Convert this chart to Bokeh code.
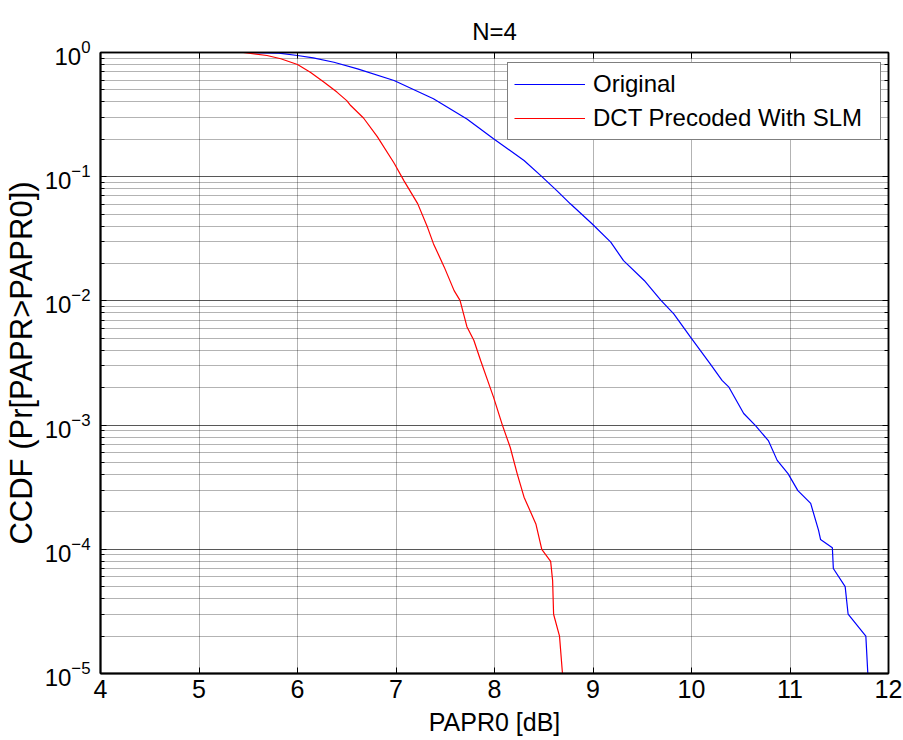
from bokeh.plotting import figure
from bokeh.models import (LinearAxis, LogAxis, Legend, LegendItem, SingleIntervalTicker,
                          CustomJSTickFormatter, Range1d)
from bokeh.embed import file_html
from bokeh.resources import INLINE

# ---- data ----
title_text = "N=4"
x_label = "PAPR0 [dB]"
y_label = "CCDF (Pr[PAPR>PAPR0])"
series_names = ["Original", "DCT Precoded With SLM"]

papr_original = [4.27, 5.50, 5.81, 6.00, 6.16, 6.37, 6.61, 6.98, 7.38, 7.72, 7.99, 8.30,
                 8.47, 8.63, 8.77, 8.99, 9.18, 9.31, 9.52, 9.69, 9.82, 9.99, 10.19, 10.31,
                 10.38, 10.53, 10.65, 10.78, 10.87, 10.98, 11.08, 11.21, 11.29, 11.31,
                 11.43, 11.44, 11.56, 11.59, 11.77, 11.79]
ccdf_original = [1.0, 1.0, 0.99, 0.946, 0.906, 0.835, 0.739, 0.595, 0.424, 0.292, 0.202, 0.135,
                 0.102, 0.0776, 0.0605, 0.0418, 0.0297, 0.0211, 0.0146, 0.0101, 0.00787, 0.0051,
                 0.00311, 0.00229, 0.00202, 0.00124, 0.00099, 7.5e-4, 5.2e-4, 4.07e-4, 2.97e-4,
                 2.34e-4, 1.42e-4, 1.2e-4, 1.03e-4, 7e-5, 5e-5, 3e-5, 2e-5, 1e-5]

papr_dct = [4.27, 5.45, 5.69, 5.83, 6.00, 6.13, 6.27, 6.40, 6.50, 6.54, 6.67, 6.81, 6.98,
            7.08, 7.22, 7.32, 7.38, 7.49, 7.59, 7.65, 7.72, 7.79, 7.86, 7.93, 7.99, 8.08,
            8.16, 8.23, 8.30, 8.42, 8.48, 8.57, 8.59, 8.60, 8.66, 8.69]
ccdf_dct = [1.0, 1.0, 0.946, 0.89, 0.80, 0.694, 0.577, 0.48, 0.41, 0.374, 0.297, 0.21, 0.129,
            0.093, 0.0607, 0.0391, 0.0289, 0.0187, 0.0121, 0.0101, 0.0062, 0.00482, 0.0033,
            0.00229, 0.00168, 1e-3, 6.6e-4, 4.07e-4, 2.63e-4, 1.6e-4, 1.0e-4, 8e-5, 5.6e-5,
            3e-5, 2e-5, 1e-5]

x_min, x_max = 4, 12
y_min, y_max = 1e-5, 1.0

FONT = "Liberation Sans"

p = figure(width=903, height=740, output_backend="svg", toolbar_location=None,
           y_axis_type="log", x_range=Range1d(x_min, x_max), y_range=Range1d(y_min, y_max),
           min_border_left=100, min_border_right=15, min_border_top=52, min_border_bottom=67,
           background_fill_color="white", border_fill_color="white")

p.title.text = title_text
p.title.align = "center"
p.title.text_font = FONT
p.title.text_font_size = "24px"
p.title.text_font_style = "normal"
p.title.text_color = "black"
p.title.standoff = 16

# grids (MATLAB-like dotted)
p.xgrid.ticker = SingleIntervalTicker(interval=1, num_minor_ticks=0)
for g in (p.xgrid, p.ygrid):
    g.grid_line_color = "#000000"
    g.grid_line_alpha = 0.6
    g.grid_line_dash = "1 1"
    g.grid_line_width = 1
p.ygrid.minor_grid_line_color = "#000000"
p.ygrid.minor_grid_line_alpha = 0.6
p.ygrid.minor_grid_line_dash = "1 1"

p.outline_line_color = "black"
p.outline_line_width = 1.5

xa = p.xaxis[0]
xa.ticker = SingleIntervalTicker(interval=1, num_minor_ticks=0)
xa.axis_label = x_label
xa.axis_label_text_font = FONT
xa.axis_label_text_font_size = "25px"
xa.axis_label_text_font_style = "normal"
xa.axis_label_standoff = 7
xa.major_label_text_font = FONT
xa.major_label_text_font_size = "25px"
xa.major_label_standoff = 6
xa.major_tick_in = 6
xa.major_tick_out = 0
xa.axis_line_width = 2

ya = p.yaxis[0]
ya.axis_label = y_label
ya.axis_label_text_font = FONT
ya.axis_label_text_font_size = "31px"
ya.axis_label_text_font_style = "normal"
ya.axis_label_standoff = 3
ya.major_label_text_font = FONT
ya.major_label_text_font_size = "24px"
ya.major_label_standoff = 10
ya.major_tick_in = 6
ya.major_tick_out = 0
ya.minor_tick_in = 4
ya.minor_tick_out = 0
ya.axis_line_width = 2

for a in (xa, ya):
    a.axis_label_text_color = "black"
    a.major_label_text_color = "black"
    a.major_tick_line_color = "black"
    a.minor_tick_line_color = "black"
    a.axis_line_color = "black"

blank = CustomJSTickFormatter(code="return ''")
top = LinearAxis(ticker=SingleIntervalTicker(interval=1, num_minor_ticks=0), formatter=blank,
                 major_label_text_font_size="0px", major_label_standoff=0,
                 major_tick_in=6, major_tick_out=0, axis_line_width=1.5)
right = LogAxis(formatter=blank, major_label_text_font_size="0px", major_label_standoff=0,
                major_tick_in=6, major_tick_out=0, minor_tick_in=4, minor_tick_out=0,
                axis_line_width=1.5)
p.add_layout(top, "above")
p.add_layout(right, "right")

r1 = p.line(papr_original, ccdf_original, line_color="#0000FF", line_width=1.2)
r2 = p.line(papr_dct, ccdf_dct, line_color="#FF0000", line_width=1.2)

legend = Legend(items=[LegendItem(label=series_names[0], renderers=[r1]),
                       LegendItem(label=series_names[1], renderers=[r2])],
                location=(407, 533), margin=0, padding=6, spacing=4,
                glyph_width=71, glyph_height=30, label_standoff=8, label_width=281,
                label_text_font=FONT, label_text_font_size="24px", label_text_color="black",
                border_line_color="black", border_line_width=1.5,
                background_fill_alpha=1.0)
p.add_layout(legend, "center")

open("out.html", "w").write(file_html(p, INLINE))
